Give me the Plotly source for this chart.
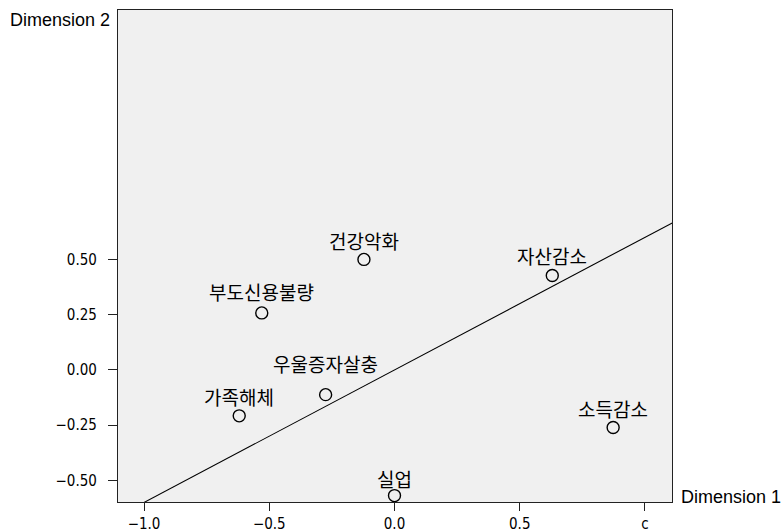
import plotly.graph_objects as go

# Data
labels = ["건강악화", "부도신용불량", "우울증자살충", "가족해체", "실업", "자산감소", "소득감소"]
dim1 = [-0.122, -0.53, -0.275, -0.62, 0.0, 0.63, 0.873]
dim2 = [0.50, 0.258, -0.112, -0.208, -0.569, 0.427, -0.261]

line_x = [-1.0, 1.11]
line_y = [-0.60, 0.666]

x_tickvals = [-1.0, -0.5, 0.0, 0.5, 1.0]
x_ticktext = ["−1.0", "−0.5", "0.0", "0.5", "c"]
y_tickvals = [0.50, 0.25, 0.00, -0.25, -0.50]
y_ticktext = ["0.50", "0.25", "0.00", "−0.25", "−0.50"]

# label vertical offsets (px) above each marker
label_shift = [3, 6, 16, 4, 2, 5, 4]

tick_font = dict(family="Liberation Sans Narrow, DejaVu Sans Condensed, Liberation Sans", size=15, color="#000")
kr_font = dict(family="Noto Sans CJK KR", size=19, color="#000")
dim_font = dict(family="Liberation Sans, Arial", size=18, color="#000")

fig = go.Figure()
fig.add_trace(go.Scatter(x=line_x, y=line_y, mode="lines",
                         line=dict(color="black", width=1.1), hoverinfo="skip"))
fig.add_trace(go.Scatter(x=dim1, y=dim2, mode="markers",
                         marker=dict(symbol="circle-open", size=12,
                                     line=dict(color="black", width=1.4), color="black")))

for lab, xv, yv, sh in zip(labels, dim1, dim2, label_shift):
    fig.add_annotation(x=xv, y=yv, text=lab, showarrow=False, xanchor="center",
                       yanchor="bottom", yshift=sh, font=kr_font)

fig.add_annotation(x=0, y=1, xref="paper", yref="paper", text="Dimension 2",
                   showarrow=False, xanchor="right", yanchor="middle",
                   xshift=-6, yshift=-10, font=dim_font)
fig.add_annotation(x=1, y=0, xref="paper", yref="paper", text="Dimension 1",
                   showarrow=False, xanchor="left", yanchor="middle",
                   xshift=7, yshift=5, font=dim_font)

fig.update_layout(
    width=781, height=532,
    margin=dict(l=118, r=109, t=10, b=30, autoexpand=False),
    paper_bgcolor="white", plot_bgcolor="#f0f0f0",
    showlegend=False,
    xaxis=dict(range=[-1.104, 1.108], tickvals=x_tickvals, ticktext=x_ticktext,
               showgrid=False, zeroline=False, showline=True, linecolor="#222",
               linewidth=1.3, mirror=True, ticks="outside", ticklen=8, tickwidth=1.2,
               tickcolor="#222", tickfont=tick_font, automargin=False,
               ticklabelstandoff=0),
    yaxis=dict(range=[-0.598, 1.629], tickvals=y_tickvals, ticktext=y_ticktext,
               showgrid=False, zeroline=False, showline=True, linecolor="#222",
               linewidth=1.3, mirror=True, ticks="outside", ticklen=9, tickwidth=1.2,
               tickcolor="#222", tickfont=tick_font, automargin=False,
               ticklabelstandoff=8),
)

fig.write_html("out.html", config={"displayModeBar": False},
               post_script="document.body.style.margin='0';")
